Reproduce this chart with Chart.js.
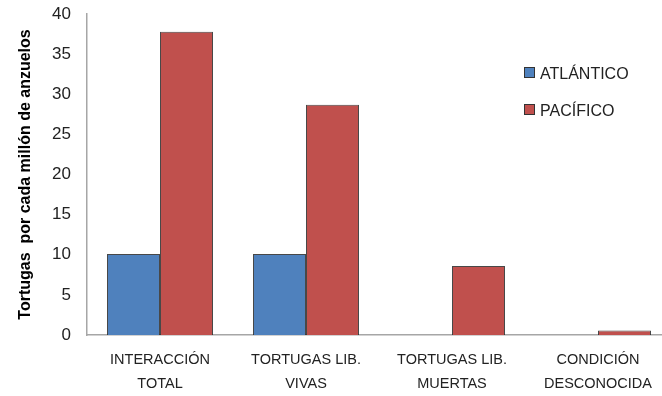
<!DOCTYPE html>
<html>
<head>
<meta charset="utf-8">
<script src="https://cdn.jsdelivr.net/npm/chart.js@4"></script>
<style>
  body { margin: 0; background: #fff; overflow: hidden; }
  #wrap { position: relative; width: 672px; height: 396px; }
  .leg { position: absolute; left: 524px; font: 16px "Liberation Sans", Arial, sans-serif; color: #222; line-height: 18px; }
  .leg span { display: inline-block; width: 9px; height: 9px; border: 1px solid #333; margin-right: 5px; vertical-align: 1px; }
</style>
</head>
<body>
<div id="wrap">
  <canvas id="chart"></canvas>
  <div class="leg" style="top:65px"><span style="background:#4F81BD"></span>ATLÁNTICO</div>
  <div class="leg" style="top:102px"><span style="background:#C0504D"></span>PACÍFICO</div>
</div>
<script>
const categories = [
    ['INTERACCIÓN', 'TOTAL'],
    ['TORTUGAS LIB.', 'VIVAS'],
    ['TORTUGAS LIB.', 'MUERTAS'],
    ['CONDICIÓN', 'DESCONOCIDA']
];
const atlantico = [10.1, 10.1, 0, 0];
const pacifico = [37.8, 28.7, 8.6, 0.55];

const font = 'Liberation Sans';

new Chart(document.getElementById('chart').getContext('2d'), {
    type: 'bar',
    data: {
        labels: categories,
        datasets: [{
            label: 'ATLÁNTICO',
            data: atlantico,
            backgroundColor: '#4F81BD',
            borderColor: 'rgba(40,40,40,0.85)',
            borderWidth: 1
        }, {
            label: 'PACÍFICO',
            data: pacifico,
            backgroundColor: '#C0504D',
            borderColor: 'rgba(40,40,40,0.85)',
            borderWidth: 1
        }]
    },
    options: {
        responsive: true,
        maintainAspectRatio: false,
        animation: false,
        layout: { padding: { top: 14, right: 1, left: 0, bottom: 0 } },
        plugins: {
            legend: { display: false },
            tooltip: { enabled: false }
        },
        datasets: {
            bar: { categoryPercentage: 0.726, barPercentage: 1 }
        },
        scales: {
            x: {
                grid: { display: false, drawTicks: false },
                border: { color: '#A6A6A6', width: 1.5 },
                ticks: {
                    color: '#222',
                    padding: 13,
                    maxRotation: 0,
                    autoSkip: false,
                    font: { family: font, size: 14.5, lineHeight: 1.65 }
                },
                afterFit: s => { s.height = 61; }
            },
            y: {
                min: 0,
                max: 40,
                grid: { display: false, drawTicks: false },
                border: { color: '#A6A6A6', width: 1.5 },
                ticks: {
                    stepSize: 5,
                    color: '#222',
                    padding: 16,
                    font: { family: font, size: 17 }
                },
                title: {
                    display: true,
                    text: 'Tortugas  por cada millón de anzuelos',
                    color: '#000',
                    padding: { top: 16, bottom: 0 },
                    font: { family: font, size: 16, weight: 'bold' }
                },
                afterFit: s => {
                    s.width = 87;
                    s.paddingTop = 0;
                    s.paddingBottom = 0;
                }
            }
        }
    }
});
</script>
</body>
</html>
